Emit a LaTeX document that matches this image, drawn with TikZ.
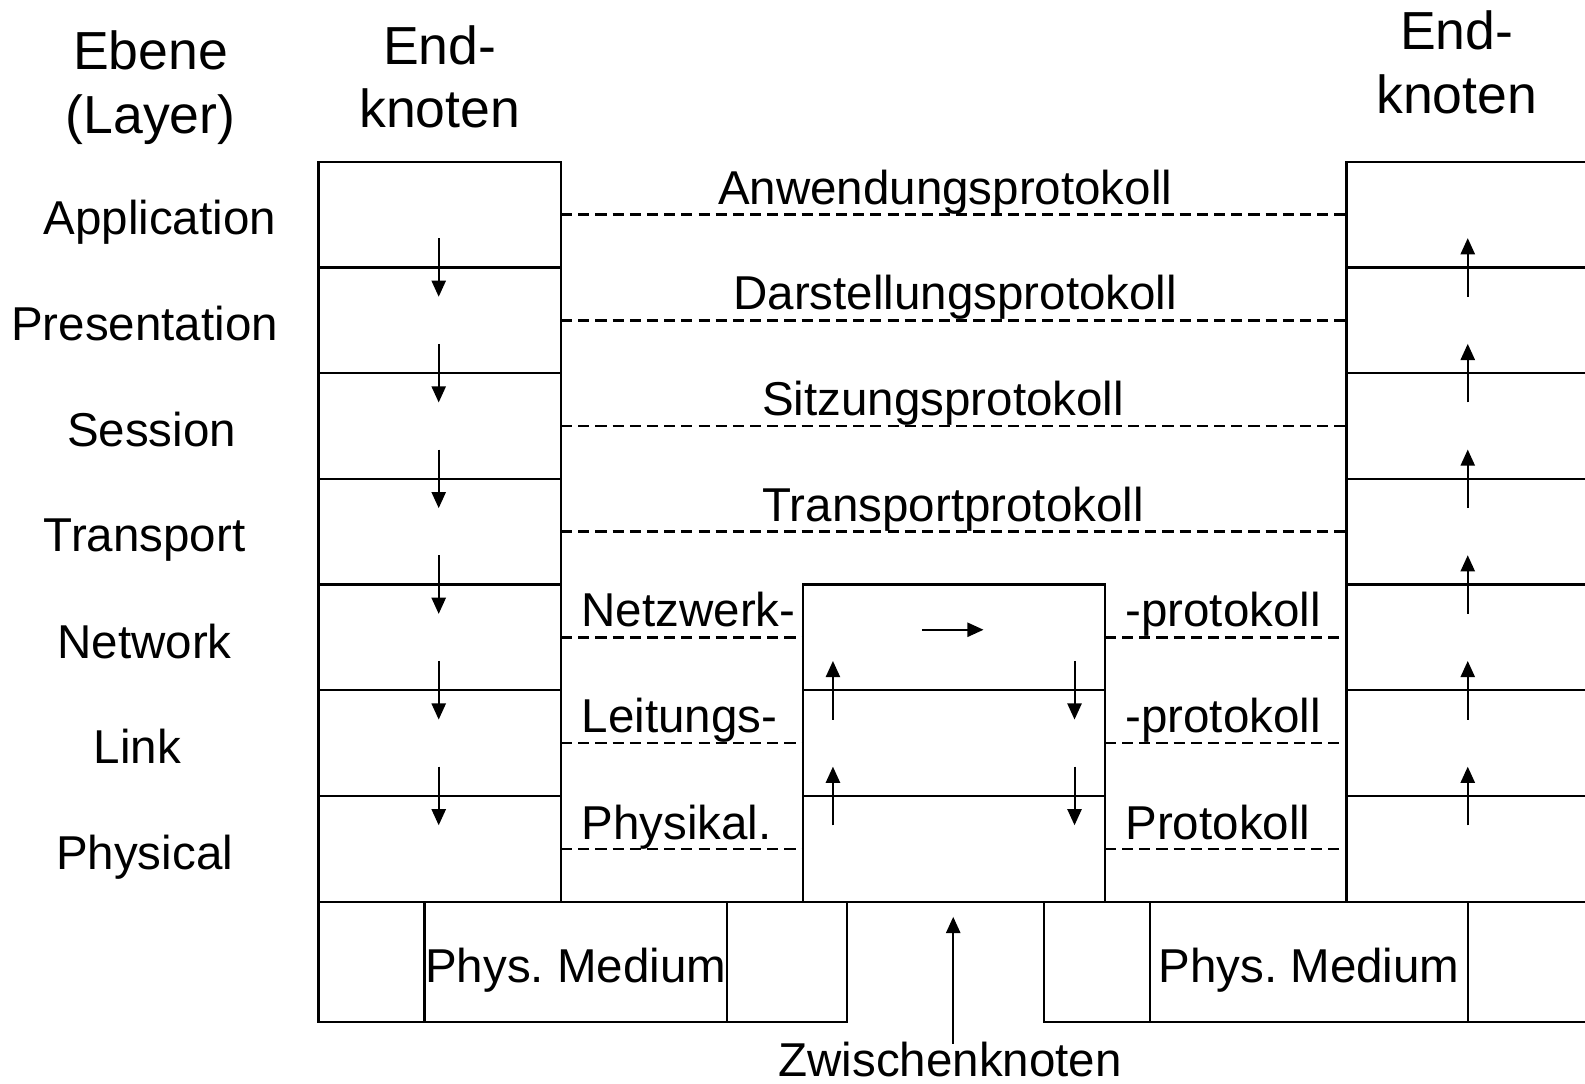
\documentclass[tikz,border=0pt]{standalone}
\usepackage{fontspec}
\setmainfont{Liberation Sans}
\usetikzlibrary{arrows.meta}
\frenchspacing
\begin{document}
\begin{tikzpicture}[x=0.5pt,y=-0.5pt,
  frame/.style={line width=1.1pt},
  layerbox/.style={draw, line width=1.1pt, minimum width=120pt, minimum height=52.285pt, inner sep=0pt, outer sep=0pt},
  midbox/.style={draw, line width=1.1pt, minimum width=149.5pt, minimum height=52.285pt, inner sep=0pt, outer sep=0pt},
  proto/.style={line width=1.3pt, dash pattern=on 5.5pt off 3pt},
  flow/.style={line width=1pt, -{Triangle[length=8pt,width=7pt]}},
  txt/.style={font=\fontsize{23.5}{31.5}\selectfont, inner sep=0pt, align=center},
  head/.style={font=\fontsize{26.5}{31.5}\selectfont, inner sep=0pt, align=center},
]
\useasboundingbox (0,0) rectangle (1568,1072);

% left end node: seven stacked layers
\foreach \i in {0,...,6} {
  \pgfmathsetmacro{\yc}{212.29+\i*104.571}
  \node[layerbox] (L\i) at (435,\yc) {};
  \coordinate (R\i) at (1332,\yc);
}
% intermediate node: lower three layers
\foreach \i in {4,5,6} {
  \pgfmathsetmacro{\yc}{212.29+\i*104.571}
  \node[midbox] (M\i) at (943.5,\yc) {};
}
% right end node (open towards the right)
\draw[frame] (1568,160) -- (1332,160) -- (1332,892);
\foreach \i in {1,...,6} {
  \pgfmathsetmacro{\yb}{160+\i*104.571}
  \draw[frame] (1332,\yb) -- (1568,\yb);
}

% peer protocols
\foreach \i in {0,...,3} \draw[proto] (L\i.east) -- (R\i);
\foreach \i in {4,5,6} {
  \draw[proto] (L\i.east) -- (M\i.west);
  \draw[proto] (M\i.east) -- (R\i);
}

% physical medium
\draw[frame] (315,892) rectangle (838,1011);
\node[draw, line width=1.1pt, minimum width=149.5pt, minimum height=59.5pt, inner sep=0pt, outer sep=0pt] (PM1) at (569.5,951.5) {};
\node[txt, anchor=base] (PM1t) at (569.5,972) {Phys. Medium};
\draw[frame] (1568,892) -- (1033,892) -- (1033,1011) -- (1568,1011);
\node[draw, line width=1.1pt, minimum width=157pt, minimum height=59.5pt, inner sep=0pt, outer sep=0pt] (PM2) at (1295,951.5) {};
\node[txt, anchor=base] (PM2t) at (1295,972) {Phys. Medium};

% headings
\node[head] (ebene) at (149,87) {Ebene\\(Layer)};
\node[head] (endl) at (435,76) {End-\\knoten};
\node[head] (endr) at (1441,62) {End-\\knoten};

% layer names
\node[txt, anchor=base] (n0) at (158,232) {Application};
\node[txt, anchor=base] (n1) at (143,337) {Presentation};
\node[txt, anchor=base] (n2) at (150,442) {Session};
\node[txt, anchor=base] (n3) at (143,546) {Transport};
\node[txt, anchor=base] (n4) at (143,651) {Network};
\node[txt, anchor=base] (n5) at (136,755) {Link};
\node[txt, anchor=base] (n6) at (143,860) {Physical};

% protocol labels
\node[txt, anchor=base] (p0) at (935,202) {Anwendungsprotokoll};
\node[txt, anchor=base] (p1) at (945,306) {Darstellungsprotokoll};
\node[txt, anchor=base] (p2) at (933,411) {Sitzungsprotokoll};
\node[txt, anchor=base] (p3) at (943,516) {Transportprotokoll};
\node[txt, anchor=base west] (p4a) at (575,620) {Netzwerk-};
\node[txt, anchor=base west] (p5a) at (575,725) {Leitungs-};
\node[txt, anchor=base west] (p6a) at (575,830) {Physikal.};
\node[txt, anchor=base west] (p4b) at (1113,620) {-protokoll};
\node[txt, anchor=base west] (p5b) at (1113,725) {-protokoll};
\node[txt, anchor=base west] (p6b) at (1113,830) {Protokoll};

% data flow down the sender, up the receiver
\foreach \i in {1,...,6} {
  \pgfmathsetmacro{\yb}{160+\i*104.571}
  \coordinate (dl\i) at (434,\yb-29);
  \coordinate (dh\i) at (434,\yb+29);
  \coordinate (ul\i) at (1452,\yb+29);
  \coordinate (uh\i) at (1452,\yb-29);
  \draw[flow] (dl\i) -- (dh\i);
  \draw[flow] (ul\i) -- (uh\i);
}
% relaying inside the intermediate node
\foreach \i in {5,6} {
  \pgfmathsetmacro{\yb}{160+\i*104.571}
  \coordinate (ml\i) at (824,\yb+29);
  \coordinate (mh\i) at (824,\yb-29);
  \coordinate (rl\i) at (1063,\yb-29);
  \coordinate (rh\i) at (1063,\yb+29);
  \draw[flow] (ml\i) -- (mh\i);
  \draw[flow] (rl\i) -- (rh\i);
}
\coordinate (fw1) at (912,623);
\coordinate (fw2) at (973,623);
\draw[flow] (fw1) -- (fw2);

% intermediate node caption
\node[txt, anchor=base] (zk) at (940,1065) {Zwischenknoten};
\coordinate (zktip) at (943,907);
\draw[flow] ([yshift=-1pt]zk.north -| zktip) -- (zktip);
\end{tikzpicture}
\end{document}
